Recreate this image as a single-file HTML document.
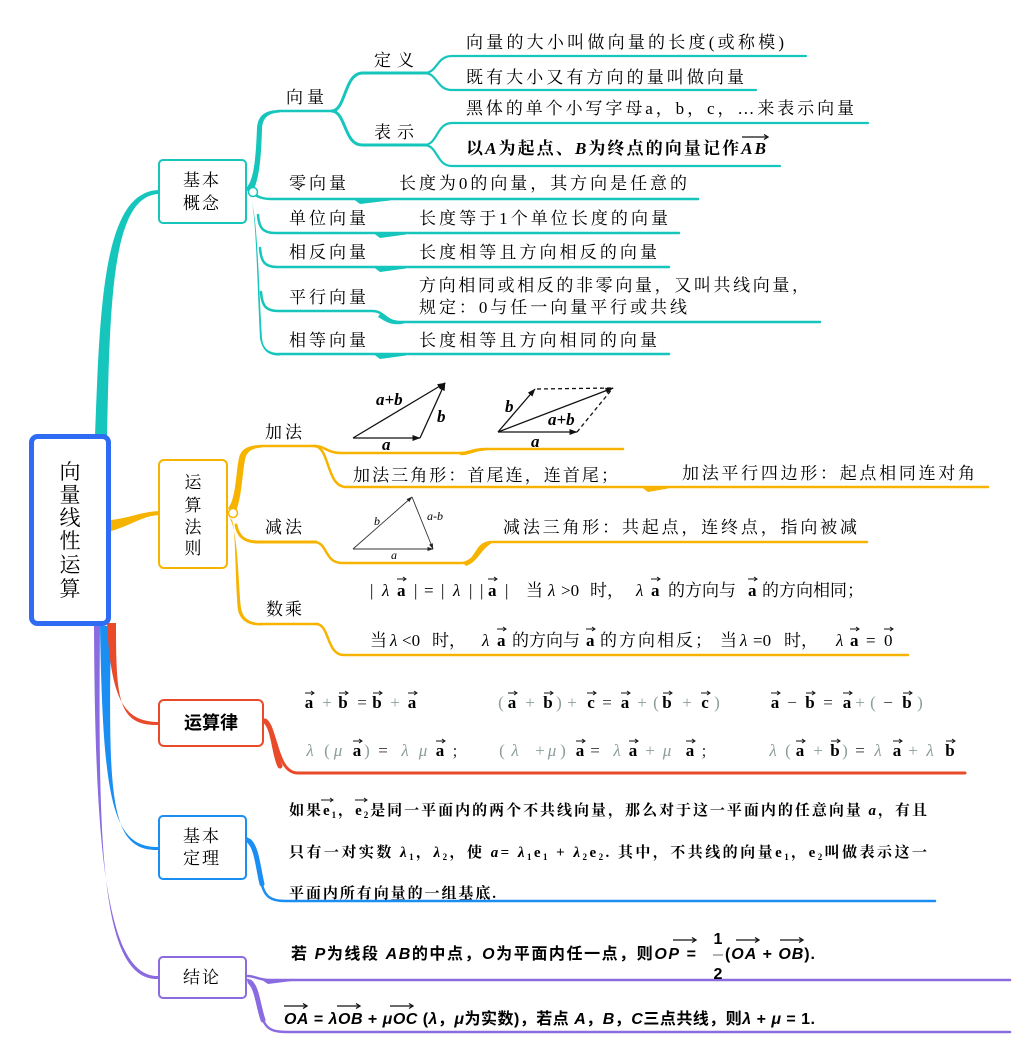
<!DOCTYPE html>
<html><head><meta charset="utf-8">
<style>
html,body{margin:0;padding:0;background:#fff;width:1015px;height:1061px;overflow:hidden}
svg{display:block}
.s{font-family:"Liberation Serif","Noto Serif CJK SC",serif;font-size:17px;fill:#000}
.b{font-weight:bold}
.m{font-weight:bold}
.i{font-style:italic}
.h{font-family:"Liberation Sans","Noto Sans CJK SC",sans-serif;font-weight:bold;font-size:16px;fill:#000}
.f{font-family:"Liberation Serif","Noto Serif CJK SC",serif;font-size:17px;fill:#000}
.bk{font-weight:bold;fill:#000}
.lt{fill:#8c9c9c;font-weight:normal}
.dk{fill:#333}
</style></head><body>
<svg width="1015" height="1061" viewBox="0 0 1015 1061" xmlns="http://www.w3.org/2000/svg">
<defs>
<marker id="ah" viewBox="0 0 8 6" markerWidth="8" markerHeight="6" refX="7.5" refY="3" orient="auto" markerUnits="userSpaceOnUse"><path d="M0 0L8 3L0 6z" fill="#111"/></marker>
<marker id="ah2" viewBox="0 0 6 4" markerWidth="6" markerHeight="4" refX="5.5" refY="2" orient="auto" markerUnits="userSpaceOnUse"><path d="M0 0L6 2L0 4z" fill="#222"/></marker>
</defs>

<!-- ========== TEAL: 基本概念 ========== -->
<g fill="#16c5bb">
<path d="M95 436 C100 300 104 193 158 190 L158 194 C112 197 110 300 107 436 Z"/>
<path d="M246 188 C255 180 256 150 257 128 C258 116 264 110 280 110 L280 112.5 C268 113 262 118 262 130 C261 155 260 183 250 196 Z"/>
<path d="M247 190 C258 200 258 280 262 338 C263 348 268 353 280 353 L280 355.5 C268 356 262 350 260 338 C257 280 256 205 250 196 Z"/>
<path d="M352 198 L390 199 L390 200.5 L360 204 Z"/>
<path d="M372 232 L406 233 L406 234.5 L380 238 Z"/>
<path d="M372 266 L406 267 L406 268.5 L380 272 Z"/>
<path d="M372 353 L406 354 L406 355.5 L380 359 Z"/>
<path d="M380 314 C388 318 392 324 404 321 L404 323.5 C392 326 386 322 378 317 Z"/>
</g>
<g fill="none" stroke="#16c5bb" stroke-linecap="round">
<path d="M252 193 C258 197 262 199 272 199 L698 199" stroke-width="2.5"/>
<path d="M258 215 C259 228 263 233 275 233 L679 233" stroke-width="2.5"/>
<path d="M260 248 C261 262 265 267 277 267 L669 267" stroke-width="2.5"/>
<path d="M261 292 C262 306 266 311 278 311 L372 311 C385 311 385 322 400 322 L820 322" stroke-width="2.5"/>
<path d="M278 354 L669 354" stroke-width="2.5"/>
<path d="M278 111 L336 111" stroke-width="2.5"/>
<path d="M332 111 C346 110 344 74 362 73 L426 73" stroke-width="3"/>
<path d="M332 111 C346 112 344 145 362 145 L426 145" stroke-width="3"/>
<path d="M424 73 C438 73 436 56 452 56 L806 56" stroke-width="2.2"/>
<path d="M424 73 C438 73 436 90 452 90 L756 90" stroke-width="2.2"/>
<path d="M424 145 C438 145 436 123 452 123 L868 123" stroke-width="2.2"/>
<path d="M424 145 C438 145 436 166 452 166 L780 166" stroke-width="2.2"/>
</g>
<rect x="159" y="160" width="87" height="63" rx="4" fill="#fff" stroke="#16c5bb" stroke-width="2"/>
<circle cx="253" cy="192" r="4.5" fill="#fff" stroke="#16c5bb" stroke-width="1.5"/>

<!-- ========== ORANGE: 运算法则 ========== -->
<g fill="#f6b400">
<path d="M111 520 C130 518 140 512 159 511 L159 515 C142 516 132 525 111 531 Z"/>
<path d="M228 508 C236 500 236 470 239 458 C241 449 248 445 262 445 L262 447.5 C252 448 246 452 245 460 C242 475 242 500 234 516 Z"/>
<path d="M228 516 C238 525 238 580 241 608 C243 619 250 623 262 623 L262 625.5 C248 626 240 620 238 610 C235 580 236 530 232 520 Z"/>
<path d="M640 486 L668 487 L668 488.5 L648 492 Z"/>
<path d="M460 452 C468 452 474 448 486 448 L486 450.5 C474 451 468 456 460 455 Z"/>
<path d="M462 562 C474 560 476 548 490 541 L492 543 C480 550 478 562 466 566 Z"/>
</g>
<g fill="none" stroke="#f6b400" stroke-linecap="round">
<path d="M236 525 C238 536 244 542 258 542 L316 542" stroke-width="3"/>
<path d="M260 446 L316 446" stroke-width="2.5"/>
<path d="M260 624 L318 624" stroke-width="2.5"/>
<path d="M314 446 C326 446 326 453 342 453 L460 453 C472 453 470 449 486 449 L623 449" stroke-width="2.5"/>
<path d="M314 446 C330 446 326 487 346 487 L988 487" stroke-width="2.5"/>
<path d="M314 542 C328 542 324 563 342 563 L462 563 C478 563 474 542 492 542 L867 542" stroke-width="2.5"/>
<path d="M316 624 C330 624 326 655 344 655 L908 655" stroke-width="2.5"/>
</g>
<rect x="159" y="460" width="68" height="108" rx="5" fill="#fff" stroke="#f6b400" stroke-width="2"/>
<circle cx="233" cy="513" r="4.5" fill="#fff" stroke="#f6b400" stroke-width="1.5"/>

<!-- ========== PURPLE / BLUE / RED main branches ========== -->
<path d="M94 626 C95 850 106 978 159 976 L159 979 C101 982 98 850 100 626 Z" fill="#8a6be0"/>
<path d="M100 626 C103 800 112 848 159 847 L159 850 C110 852 108 800 111 626 Z" fill="#1a8ef2"/>
<path d="M107 623 C111 700 124 722 159 722 L159 725 C118 726 116 700 116 623 Z" fill="#e84a2a"/>

<g fill="none" stroke="#e84a2a" stroke-linecap="round">
<path d="M263 720 C278 726 275 773 298 773 L965 773" stroke-width="3"/>
<path d="M265 721 C274 728 274 755 280 766" stroke-width="5"/>
</g>
<rect x="159" y="700" width="104" height="46" rx="5" fill="#fff" stroke="#e84a2a" stroke-width="2"/>

<g fill="none" stroke="#1a8ef2" stroke-linecap="round">
<path d="M246 838 C256 842 258 870 262 885 C265 896 270 901 285 901 L935 901" stroke-width="2.5"/>
<path d="M249 841 C257 848 258 868 262 884" stroke-width="5"/>
</g>
<rect x="159" y="816" width="87" height="63" rx="4" fill="#fff" stroke="#1a8ef2" stroke-width="2"/>

<g fill="none" stroke="#8a6be0" stroke-linecap="round">
<path d="M248 976 C255 976 258 980 270 980 L1010 980" stroke-width="2.5"/>
<path d="M248 980 C258 985 258 1010 264 1022 C268 1030 274 1032 288 1032 L1010 1032" stroke-width="2.5"/>
<path d="M250 982 C257 988 258 1005 263 1020" stroke-width="5"/>
</g>
<path d="M262 980 L292 979 L292 981 L268 984 Z" fill="#8a6be0"/>
<rect x="159" y="957" width="87" height="41" rx="4" fill="#fff" stroke="#8a6be0" stroke-width="2"/>

<!-- ========== ROOT ========== -->
<rect x="31.5" y="436.5" width="77" height="187" rx="6" fill="#fff" stroke="#2f6cf4" stroke-width="5"/>
<g class="s" style="font-size:21px" text-anchor="middle">
<text x="70" y="479">向</text>
<text x="70" y="502">量</text>
<text x="70" y="525">线</text>
<text x="70" y="548">性</text>
<text x="70" y="572">运</text>
<text x="70" y="596">算</text>
</g>

<g class="s" text-anchor="middle">
<text x="202" y="186" letter-spacing="2">基本</text>
<text x="202" y="209" letter-spacing="2">概念</text>
<text x="193" y="488">运</text>
<text x="193" y="511">算</text>
<text x="193" y="533">法</text>
<text x="193" y="554">则</text>
<text x="202" y="842" letter-spacing="2">基本</text>
<text x="202" y="864" letter-spacing="2">定理</text>
<text x="202" y="983" letter-spacing="2">结论</text>
</g>
<text class="h" style="font-size:18px" x="211" y="729" text-anchor="middle">运算律</text>

<!-- ========== 基本概念 texts ========== -->
<text class="s" x="374" y="66" textLength="40">定义</text>
<text class="s" x="286" y="103" textLength="38">向量</text>
<text class="s" x="374" y="138" textLength="40">表示</text>
<text class="s" x="466" y="48" textLength="318">向量的大小叫做向量的长度(或称模)</text>
<text class="s" x="466" y="83" textLength="278">既有大小又有方向的量叫做向量</text>
<text class="s" x="466" y="114" textLength="388">黑体的单个小写字母a，b，c，…来表示向量</text>
<text class="s b" x="466" y="154" textLength="300">以<tspan class="i">A</tspan>为起点、<tspan class="i">B</tspan>为终点的向量记作<tspan class="i">AB</tspan></text>
<path d="M742 137H768M764 134.5L768 137L764 139.5" stroke="#111" stroke-width="1.3" fill="none"/>

<text class="s" x="289" y="189" textLength="57">零向量</text>
<text class="s" x="399" y="189" textLength="288">长度为0的向量，其方向是任意的</text>
<text class="s" x="289" y="224" textLength="77">单位向量</text>
<text class="s" x="419" y="224" textLength="249">长度等于1个单位长度的向量</text>
<text class="s" x="289" y="258" textLength="77">相反向量</text>
<text class="s" x="419" y="258" textLength="238">长度相等且方向相反的向量</text>
<text class="s" x="289" y="303" textLength="77">平行向量</text>
<text class="s" x="419" y="291" textLength="390">方向相同或相反的非零向量，又叫共线向量，</text>
<text class="s" x="419" y="313" textLength="268">规定：0与任一向量平行或共线</text>
<text class="s" x="289" y="346" textLength="77">相等向量</text>
<text class="s" x="419" y="346" textLength="238">长度相等且方向相同的向量</text>

<!-- ========== 运算法则 texts ========== -->
<text class="s" x="265" y="438" textLength="37">加法</text>
<text class="s" x="265" y="533" textLength="37">减法</text>
<text class="s" x="266" y="615" textLength="36">数乘</text>
<text class="s" x="353" y="481" textLength="265">加法三角形：首尾连，连首尾；</text>
<text class="s" x="682" y="479" textLength="293">加法平行四边形：起点相同连对角</text>
<text class="s" x="503" y="533" textLength="354">减法三角形：共起点，连终点，指向被减</text>

<g stroke="#111" stroke-width="1.3" fill="none">
<line x1="353" y1="438" x2="420" y2="438" marker-end="url(#ah)"/>
<line x1="420" y1="438" x2="445" y2="383" marker-end="url(#ah)"/>
<line x1="353" y1="438" x2="445" y2="383" marker-end="url(#ah)"/>
<line x1="498" y1="432" x2="577" y2="432" marker-end="url(#ah)"/>
<line x1="498" y1="432" x2="535" y2="389" marker-end="url(#ah)"/>
<line x1="498" y1="432" x2="613" y2="388" marker-end="url(#ah)"/>
<line x1="537" y1="389" x2="613" y2="388" stroke-dasharray="4 3"/>
<line x1="577" y1="432" x2="613" y2="388" stroke-dasharray="4 3"/>
</g>
<g class="s b i">
<text x="376" y="405">a+b</text>
<text x="437" y="422">b</text>
<text x="382" y="450">a</text>
<text x="505" y="412">b</text>
<text x="548" y="425">a+b</text>
<text x="531" y="447">a</text>
</g>
<g stroke="#333" stroke-width="0.9" fill="none">
<line x1="353" y1="549" x2="412" y2="497" marker-end="url(#ah2)"/>
<line x1="353" y1="549" x2="433" y2="549" marker-end="url(#ah2)"/>
<line x1="412" y1="497" x2="433" y2="549" marker-end="url(#ah2)"/>
</g>
<g class="s i" style="font-size:12px">
<text x="374" y="525">b</text>
<text x="427" y="520">a-b</text>
<text x="391" y="559">a</text>
</g>

<text class="s" y="596"><tspan x="370">|</tspan><tspan x="382" class="i">λ</tspan><tspan x="397" class="b">a</tspan><tspan x="414">|</tspan><tspan x="424">=</tspan><tspan x="441">|</tspan><tspan x="453" class="i">λ</tspan><tspan x="469">|</tspan><tspan x="480">|</tspan><tspan x="488" class="b">a</tspan><tspan x="505">|</tspan><tspan x="526">当</tspan><tspan x="548" class="i">λ</tspan><tspan x="561">&gt;0</tspan><tspan x="590">时，</tspan><tspan x="636" class="i">λ</tspan><tspan x="651" class="b">a</tspan><tspan x="668">的方向与</tspan><tspan x="748" class="b">a</tspan><tspan x="762">的方向相同；</tspan></text>
<path d="M397 579h9m-3 -2l3 2l-3 2M488 579h9m-3 -2l3 2l-3 2M651 579h9m-3 -2l3 2l-3 2M748 579h9m-3 -2l3 2l-3 2" stroke="#111" stroke-width="1" fill="none"/>
<text class="s" y="646"><tspan x="370">当</tspan><tspan x="390" class="i">λ</tspan><tspan x="402">&lt;0</tspan><tspan x="432">时，</tspan><tspan x="482" class="i">λ</tspan><tspan x="497" class="b">a</tspan><tspan x="512">的方向与</tspan><tspan x="586" class="b">a</tspan><tspan x="600" letter-spacing="2">的方向相反；</tspan><tspan x="720">当</tspan><tspan x="740" class="i">λ</tspan><tspan x="753">=0</tspan><tspan x="784">时，</tspan><tspan x="836" class="i">λ</tspan><tspan x="850" class="b">a</tspan><tspan x="866">=</tspan><tspan x="884">0</tspan></text>
<path d="M497 629h9m-3 -2l3 2l-3 2M586 629h9m-3 -2l3 2l-3 2M850 629h9m-3 -2l3 2l-3 2M884 629h9m-3 -2l3 2l-3 2" stroke="#111" stroke-width="1" fill="none"/>

<!-- ========== 运算律 formulas ========== -->
<text class="f" y="708" text-anchor="middle"><tspan x="309" class="bk">a</tspan><tspan x="327" class="lt">+</tspan><tspan x="343" class="bk">b</tspan><tspan x="362" class="dk">=</tspan><tspan x="377" class="bk">b</tspan><tspan x="395" class="lt">+</tspan><tspan x="412" class="bk">a</tspan><tspan x="501" class="lt">(</tspan><tspan x="512" class="bk">a</tspan><tspan x="530" class="lt">+</tspan><tspan x="548" class="bk">b</tspan><tspan x="559" class="lt">)</tspan><tspan x="572" class="lt">+</tspan><tspan x="591" class="bk">c</tspan><tspan x="607" class="dk">=</tspan><tspan x="625" class="bk">a</tspan><tspan x="642" class="lt">+</tspan><tspan x="656" class="lt">(</tspan><tspan x="667" class="bk">b</tspan><tspan x="687" class="lt">+</tspan><tspan x="705" class="bk">c</tspan><tspan x="717" class="lt">)</tspan><tspan x="775" class="bk">a</tspan><tspan x="792" class="dk">−</tspan><tspan x="810" class="bk">b</tspan><tspan x="828" class="dk">=</tspan><tspan x="847" class="bk">a</tspan><tspan x="860" class="lt">+</tspan><tspan x="873" class="lt">(</tspan><tspan x="888" class="dk">−</tspan><tspan x="907" class="bk">b</tspan><tspan x="920" class="lt">)</tspan></text>
<path d="M305 693h9m-3 -2l3 2l-3 2M339 693h9m-3 -2l3 2l-3 2M373 693h9m-3 -2l3 2l-3 2M408 693h9m-3 -2l3 2l-3 2M508 693h9m-3 -2l3 2l-3 2M544 693h9m-3 -2l3 2l-3 2M587 693h9m-3 -2l3 2l-3 2M621 693h9m-3 -2l3 2l-3 2M663 693h9m-3 -2l3 2l-3 2M701 693h9m-3 -2l3 2l-3 2M771 693h9m-3 -2l3 2l-3 2M806 693h9m-3 -2l3 2l-3 2M843 693h9m-3 -2l3 2l-3 2M903 693h9m-3 -2l3 2l-3 2" stroke="#111" stroke-width="1" fill="none"/>
<text class="f" y="756" text-anchor="middle"><tspan x="310" class="lt i">λ</tspan><tspan x="327" class="lt">(</tspan><tspan x="338" class="lt i">μ</tspan><tspan x="357" class="bk">a</tspan><tspan x="367" class="lt">)</tspan><tspan x="383" class="dk">=</tspan><tspan x="405" class="lt i">λ</tspan><tspan x="423" class="lt i">μ</tspan><tspan x="440" class="bk">a</tspan><tspan x="455" class="dk">;</tspan><tspan x="502" class="lt">(</tspan><tspan x="515" class="lt i">λ</tspan><tspan x="540" class="lt">+</tspan><tspan x="552" class="lt i">μ</tspan><tspan x="563" class="lt">)</tspan><tspan x="580" class="bk">a</tspan><tspan x="595" class="dk">=</tspan><tspan x="617" class="lt i">λ</tspan><tspan x="633" class="bk">a</tspan><tspan x="650" class="lt">+</tspan><tspan x="667" class="lt i">μ</tspan><tspan x="690" class="bk">a</tspan><tspan x="704" class="dk">;</tspan><tspan x="773" class="lt i">λ</tspan><tspan x="788" class="lt">(</tspan><tspan x="800" class="bk">a</tspan><tspan x="818" class="lt">+</tspan><tspan x="835" class="bk">b</tspan><tspan x="845" class="lt">)</tspan><tspan x="860" class="dk">=</tspan><tspan x="878" class="lt i">λ</tspan><tspan x="897" class="bk">a</tspan><tspan x="913" class="lt">+</tspan><tspan x="930" class="lt i">λ</tspan><tspan x="950" class="bk">b</tspan></text>
<path d="M353 741h9m-3 -2l3 2l-3 2M436 741h9m-3 -2l3 2l-3 2M576 741h9m-3 -2l3 2l-3 2M629 741h9m-3 -2l3 2l-3 2M686 741h9m-3 -2l3 2l-3 2M796 741h9m-3 -2l3 2l-3 2M831 741h9m-3 -2l3 2l-3 2M893 741h9m-3 -2l3 2l-3 2M946 741h9m-3 -2l3 2l-3 2" stroke="#111" stroke-width="1" fill="none"/>

<!-- ========== 基本定理 text ========== -->
<g class="s m" style="font-size:15px">
<text x="289" y="815" textLength="638">如果e<tspan font-size="9" dy="3">1</tspan><tspan dy="-3">，</tspan>e<tspan font-size="9" dy="3">2</tspan><tspan dy="-3">是同一平面内的两个不共线向量，那么对于这一平面内的任意向量 </tspan><tspan class="i">a</tspan>，有且</text>
<text x="289" y="857" textLength="638">只有一对实数 <tspan class="i">λ</tspan><tspan font-size="9" dy="3">1</tspan><tspan dy="-3">，</tspan><tspan class="i">λ</tspan><tspan font-size="9" dy="3">2</tspan><tspan dy="-3">，使 </tspan><tspan class="i">a</tspan>= <tspan class="i">λ</tspan><tspan font-size="9" dy="3">1</tspan><tspan dy="-3">e</tspan><tspan font-size="9" dy="3">1</tspan><tspan dy="-3"> + </tspan><tspan class="i">λ</tspan><tspan font-size="9" dy="3">2</tspan><tspan dy="-3">e</tspan><tspan font-size="9" dy="3">2</tspan><tspan dy="-3">. 其中，不共线的向量e</tspan><tspan font-size="9" dy="3">1</tspan><tspan dy="-3">，e</tspan><tspan font-size="9" dy="3">2</tspan><tspan dy="-3">叫做表示这一</tspan></text>
<text x="289" y="898" textLength="207">平面内所有向量的一组基底.</text>
</g>
<path d="M321 800h12m-3 -2l3 2l-3 2M355 800h12m-3 -2l3 2l-3 2" stroke="#111" stroke-width="1" fill="none"/>

<!-- ========== 结论 text ========== -->
<text class="h" x="291" y="959" textLength="405">若 <tspan class="i">P</tspan>为线段 <tspan class="i">AB</tspan>的中点，<tspan class="i">O</tspan>为平面内任一点，则<tspan class="i">OP</tspan> =</text>
<text class="h" x="718" y="944" text-anchor="middle">1</text>
<line x1="713" y1="955" x2="723" y2="955" stroke="#666" stroke-width="1"/>
<text class="h" x="718" y="979" text-anchor="middle">2</text>
<text class="h" x="725" y="959" textLength="90">(<tspan class="i">OA</tspan> + <tspan class="i">OB</tspan>).</text>
<path d="M673 940h23m-4 -2.5l4 2.5l-4 2.5M736 940h23m-4 -2.5l4 2.5l-4 2.5M780 940h23m-4 -2.5l4 2.5l-4 2.5" stroke="#111" stroke-width="1.3" fill="none"/>
<text class="h" x="284" y="1024" textLength="531"><tspan class="i">OA</tspan> = <tspan class="i">λOB</tspan> + <tspan class="i">μOC</tspan> (<tspan class="i">λ</tspan>，<tspan class="i">μ</tspan>为实数)，若点 <tspan class="i">A</tspan>，<tspan class="i">B</tspan>，<tspan class="i">C</tspan>三点共线，则<tspan class="i">λ</tspan> + <tspan class="i">μ</tspan> = 1.</text>
<path d="M284 1006h23m-4 -2.5l4 2.5l-4 2.5M337 1006h23m-4 -2.5l4 2.5l-4 2.5M390 1006h23m-4 -2.5l4 2.5l-4 2.5" stroke="#111" stroke-width="1.3" fill="none"/>
</svg>
</body></html>
